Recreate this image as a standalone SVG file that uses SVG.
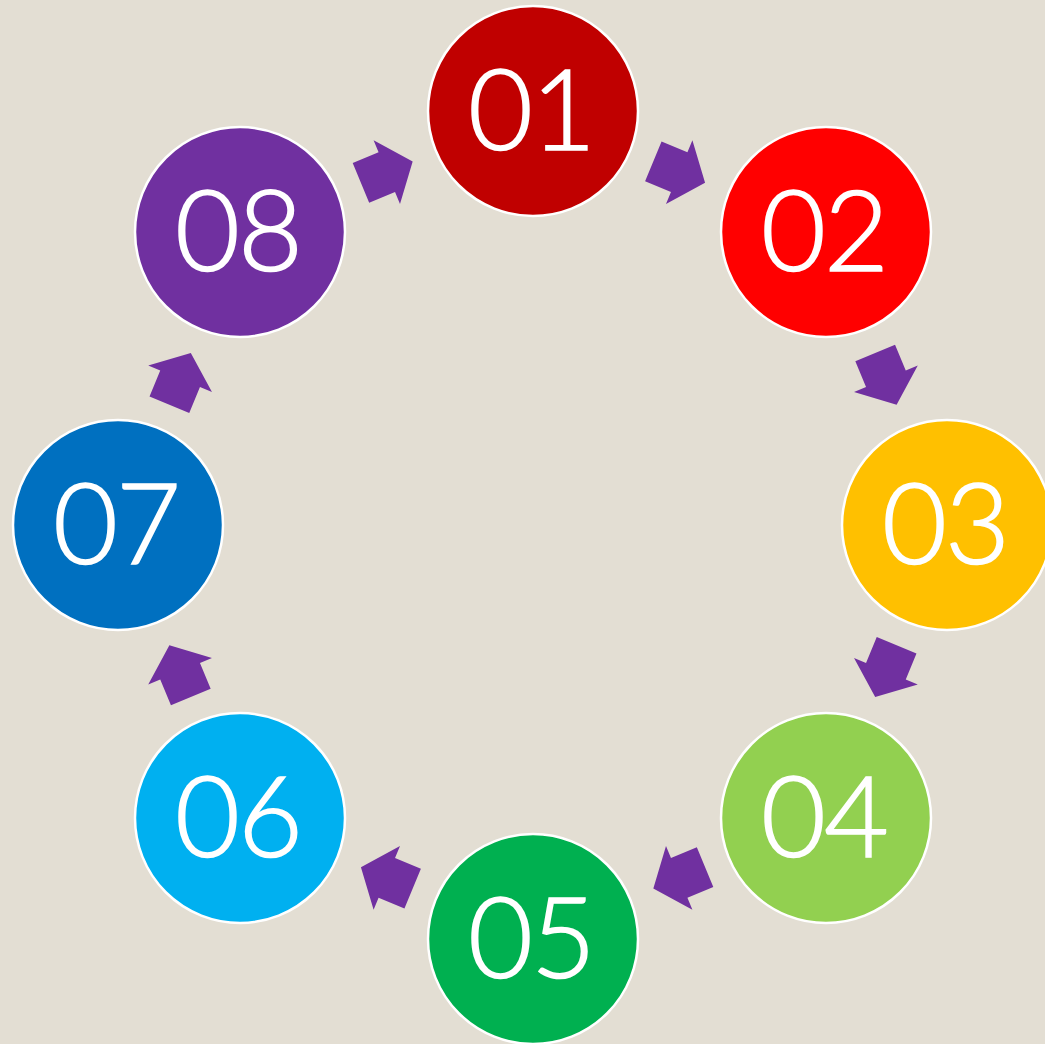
<svg xmlns="http://www.w3.org/2000/svg" width="1045" height="1044" viewBox="0 0 1045 1044">
<defs>
<style>
.n circle{stroke:#FFFFFF;stroke-width:2.5}
.n text{font-family:Lato,"Noto Sans","DejaVu Sans",sans-serif;font-weight:300;font-size:112px;letter-spacing:-2px;fill:#FFFFFF;stroke:#FFFFFF;stroke-width:1.6;text-anchor:middle}
.a{fill:#7030A0}
</style>
<path id="arr" d="M-28,-21.5 L0,-21.5 L0,-34.5 L28,0 L0,34.5 L0,21.5 L-28,21.5 Z"/>
</defs>
<rect width="1045" height="1044" fill="#E3DED3"/>
<g id="connectors" class="a">
<use href="#arr" transform="translate(679.2,172.1) rotate(22.5)"/>
<use href="#arr" transform="translate(885.9,378.8) rotate(67.5)"/>
<use href="#arr" transform="translate(885.9,671.2) rotate(112.5)"/>
<use href="#arr" transform="translate(679.2,877.9) rotate(157.5)"/>
<use href="#arr" transform="translate(386.8,877.9) rotate(202.5)"/>
<use href="#arr" transform="translate(180.1,671.2) rotate(247.5)"/>
<use href="#arr" transform="translate(180.1,378.8) rotate(292.5)"/>
<use href="#arr" transform="translate(386.8,172.1) rotate(337.5)"/>
</g>
<g id="n01" class="n"><circle cx="533" cy="111" r="105" fill="#C00000"/><text x="531" y="150">01</text></g>
<g id="n02" class="n"><circle cx="826" cy="232" r="105" fill="#FF0000"/><text x="824" y="271">02</text></g>
<g id="n03" class="n"><circle cx="947" cy="525" r="105" fill="#FFC000"/><text x="945" y="564">03</text></g>
<g id="n04" class="n"><circle cx="826" cy="818" r="105" fill="#92D050"/><text x="824" y="857">04</text></g>
<g id="n05" class="n"><circle cx="533" cy="939" r="105" fill="#00B050"/><text x="531" y="978">05</text></g>
<g id="n06" class="n"><circle cx="240" cy="818" r="105" fill="#00B0F0"/><text x="238" y="857">06</text></g>
<g id="n07" class="n"><circle cx="118" cy="525" r="105" fill="#0070C0"/><text x="116" y="564">07</text></g>
<g id="n08" class="n"><circle cx="240" cy="232" r="105" fill="#7030A0"/><text x="238" y="271">08</text></g>
</svg>
